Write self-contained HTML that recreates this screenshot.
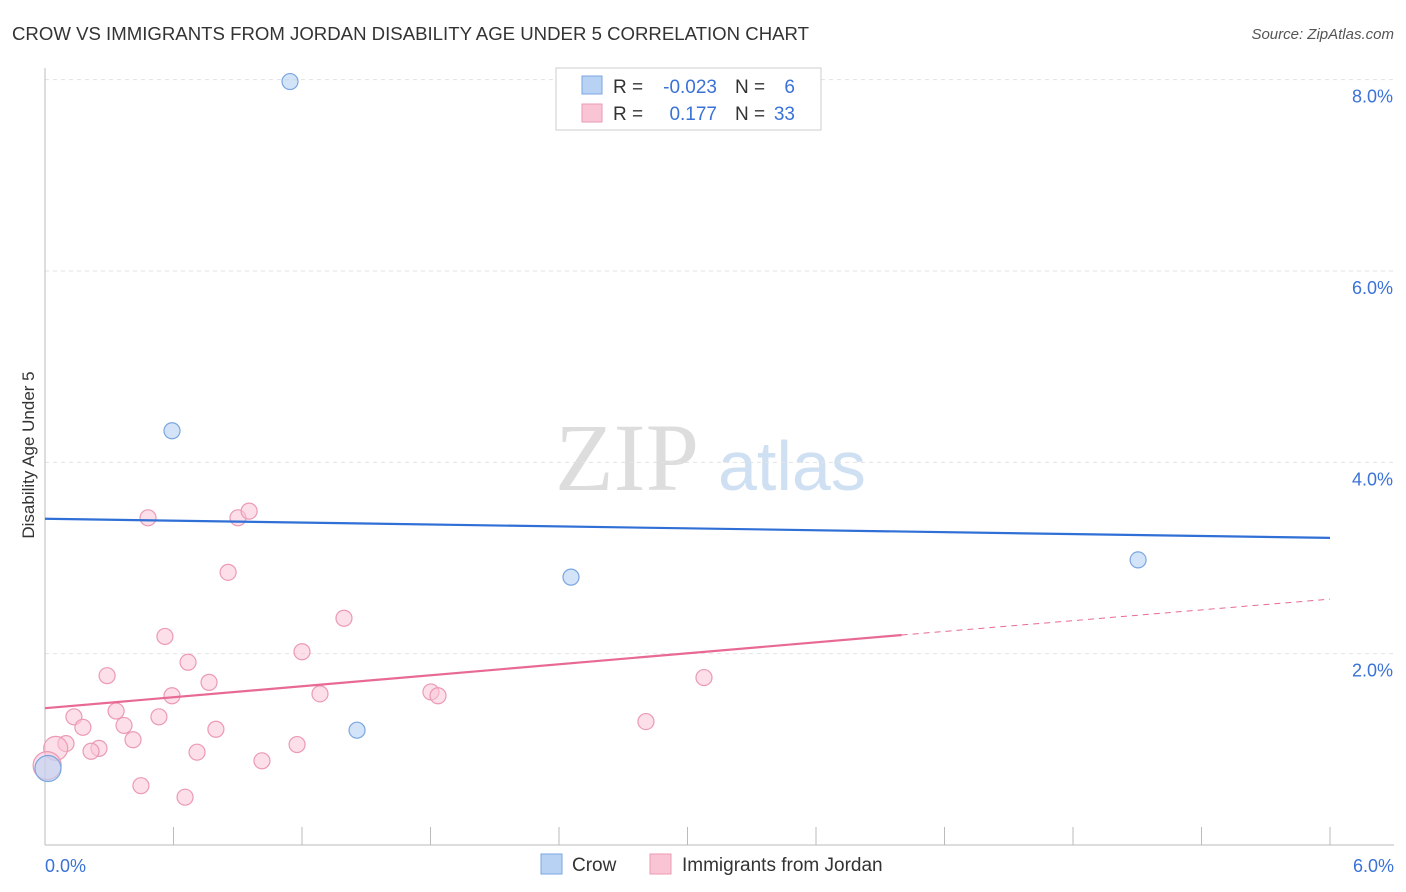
<!DOCTYPE html>
<html><head><meta charset="utf-8"><style>
body{margin:0;background:#fff;font-family:"Liberation Sans",sans-serif;}
svg{display:block}
</style></head><body>
<svg id="chart" width="1406" height="892">
<text x="12" y="40" font-size="18" fill="#333" textLength="797" lengthAdjust="spacingAndGlyphs">CROW VS IMMIGRANTS FROM JORDAN DISABILITY AGE UNDER 5 CORRELATION CHART</text>
<text x="1394" y="39" font-size="15" fill="#555" text-anchor="end" font-style="italic">Source: ZipAtlas.com</text>
<text x="34" y="455" font-size="17" fill="#333" text-anchor="middle" transform="rotate(-90 34 455)">Disability Age Under 5</text>
<text x="555" y="490" font-size="96" fill="#ddd" font-family="Liberation Serif,serif">ZIP</text>
<text x="718" y="490" font-size="70" fill="#cfe0f3">atlas</text>
<g id="grid"></g><g id="marks"></g>
<g>
<rect x="556" y="68" width="265" height="62" fill="#fff" stroke="#ccc"/>
<rect x="582" y="76" width="20" height="18" fill="#b8d2f3" stroke="#7aa6e0"/>
<rect x="582" y="104" width="20" height="18" fill="#f9c5d5" stroke="#ec9ab4"/>
<text x="613" y="93" font-size="19" fill="#333">R =</text>
<text x="717" y="93" font-size="19" fill="#3a72d8" text-anchor="end">-0.023</text>
<text x="735" y="93" font-size="19" fill="#333">N =</text>
<text x="795" y="93" font-size="19" fill="#3a72d8" text-anchor="end">6</text>
<text x="613" y="120" font-size="19" fill="#333">R =</text>
<text x="717" y="120" font-size="19" fill="#3a72d8" text-anchor="end">0.177</text>
<text x="735" y="120" font-size="19" fill="#333">N =</text>
<text x="795" y="120" font-size="19" fill="#3a72d8" text-anchor="end">33</text>
</g>
<g>
<rect x="541" y="854" width="21" height="20" fill="#b8d2f3" stroke="#7aa6e0"/>
<text x="572" y="871" font-size="19" fill="#333">Crow</text>
<rect x="650" y="854" width="21" height="20" fill="#f9c5d5" stroke="#ec9ab4"/>
<text x="682" y="871" font-size="19" fill="#333">Immigrants from Jordan</text>
</g>
</svg>
<script>
const yTicks=[2,4,6,8];
const xTickLabels=["0.0%","6.0%"];
const crowX=[1.144,0.593,2.456,5.104,1.457,0.014];
const crowY=[7.98,4.33,2.80,2.98,1.20,0.80];
const crowSize=[8,8,8,8,8,13];
const jorX=[0.481,0.901,0.953,0.855,1.396,0.560,1.200,0.668,0.290,3.077,0.766,0.593,1.284,1.802,1.835,0.332,0.135,0.532,0.177,0.369,0.798,2.806,0.411,1.177,0.098,0.252,0.215,0.710,0.05,1.013,0.01,0.448,0.654];
const jorY=[3.42,3.42,3.49,2.85,2.37,2.18,2.02,1.91,1.77,1.75,1.70,1.56,1.58,1.60,1.56,1.40,1.34,1.34,1.23,1.25,1.21,1.29,1.10,1.05,1.06,1.01,0.98,0.97,1.01,0.88,0.83,0.62,0.50];
const jorSize=[8,8,8,8,8,8,8,8,8,8,8,8,8,8,8,8,8,8,8,8,8,8,8,8,8,8,8,8,12,8,14,8,8];
const crowTrend=[3.41,3.21];
const jorTrend=[1.43,2.195,2.57];
const jorSolidEnd=4.0;
const X=v=>45+v/6*1285, Y=v=>845-v*95.67;
const NS="http://www.w3.org/2000/svg";
function mk(t,a,p){const e=document.createElementNS(NS,t);for(const k in a)e.setAttribute(k,a[k]);p.appendChild(e);return e;}
const g=document.getElementById('grid'),m=document.getElementById('marks');
yTicks.forEach(t=>{
 const l=mk('line',{x1:45,x2:1394,y1:Y(t),y2:Y(t),stroke:'#e2e2e2','stroke-dasharray':'4,4'},g);
 
 
 const tx=mk('text',{x:1393,y:Y(t)+23,'font-size':18,fill:'#3a72d8','text-anchor':'end'},g);
 tx.textContent=t.toFixed(1)+'%';
 
 
});
const ax=mk('line',{x1:45,x2:45,y1:68,y2:845,stroke:'#bbb'},g);


const bx=mk('line',{x1:45,x2:1394,y1:845,y2:845,stroke:'#bbb'},g);


for(let i=1;i<=10;i++){const tk=mk('line',{x1:X(i*0.6),x2:X(i*0.6),y1:827,y2:845,stroke:'#bbb'},g);
 
 }
[[0,'start',45],[6,'end',1394]].forEach((d,i)=>{const tx=mk('text',{x:d[2],y:872,'font-size':18,fill:'#3a72d8','text-anchor':d[1]},g);
 tx.textContent=xTickLabels[i];
 
 });
jorX.forEach((x,i)=>{const c=mk('circle',{cx:X(x),cy:Y(jorY[i]),r:jorSize[i],fill:'rgba(249,197,213,0.55)',stroke:'#ec9ab4','stroke-width':1.2},m);
 
 });
crowX.forEach((x,i)=>{const c=mk('circle',{cx:X(x),cy:Y(crowY[i]),r:crowSize[i],fill:'rgba(184,210,243,0.6)',stroke:'#7aa6e0','stroke-width':1.2},m);
 
 });
const cl=mk('line',{x1:X(0),x2:X(6),y1:Y(crowTrend[0]),y2:Y(crowTrend[1]),stroke:'#2f6fd6','stroke-width':2.2},m);


const jl=mk('line',{x1:X(0),x2:X(jorSolidEnd),y1:Y(jorTrend[0]),y2:Y(jorTrend[1]),stroke:'#e86a94','stroke-width':2.2},m);


const jd=mk('line',{x1:X(jorSolidEnd),x2:X(6),y1:Y(jorTrend[1]),y2:Y(jorTrend[2]),stroke:'#e86a94','stroke-width':1,'stroke-dasharray':'6,5'},m);


</script>
</body></html>
